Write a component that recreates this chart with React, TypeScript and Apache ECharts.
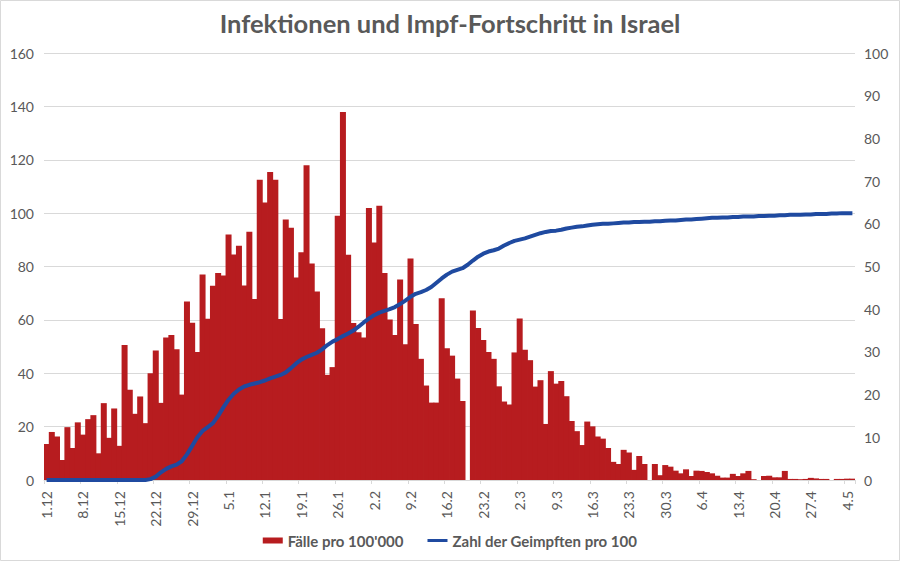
import React, { useEffect, useRef } from "react";
import * as echarts from "echarts";

const dec = ["1.12","2.12","3.12","4.12","5.12","6.12","7.12","8.12","9.12","10.12","11.12","12.12","13.12","14.12","15.12","16.12","17.12","18.12","19.12","20.12","21.12","22.12","23.12","24.12","25.12","26.12","27.12","28.12","29.12","30.12","31.12"];
const jan = ["1.1","2.1","3.1","4.1","5.1","6.1","7.1","8.1","9.1","10.1","11.1","12.1","13.1","14.1","15.1","16.1","17.1","18.1","19.1","20.1","21.1","22.1","23.1","24.1","25.1","26.1","27.1","28.1","29.1","30.1","31.1"];
const feb = ["1.2","2.2","3.2","4.2","5.2","6.2","7.2","8.2","9.2","10.2","11.2","12.2","13.2","14.2","15.2","16.2","17.2","18.2","19.2","20.2","21.2","22.2","23.2","24.2","25.2","26.2","27.2","28.2"];
const mar = ["1.3","2.3","3.3","4.3","5.3","6.3","7.3","8.3","9.3","10.3","11.3","12.3","13.3","14.3","15.3","16.3","17.3","18.3","19.3","20.3","21.3","22.3","23.3","24.3","25.3","26.3","27.3","28.3","29.3","30.3","31.3"];
const apr = ["1.4","2.4","3.4","4.4","5.4","6.4","7.4","8.4","9.4","10.4","11.4","12.4","13.4","14.4","15.4","16.4","17.4","18.4","19.4","20.4","21.4","22.4","23.4","24.4","25.4","26.4","27.4","28.4","29.4","30.4"];
const may = ["1.5","2.5","3.5","4.5","5.5"];
const categories = [...dec, ...jan, ...feb, ...mar, ...apr, ...may];

// Fälle pro 100'000 (left axis)
const cases = [
  13.5, 18, 16.3, 7.5, 19.8, 12, 21.6, 17, 22.8, 24.3, 10, 28.8, 15.8, 26.8, 12.8, 50.6, 33.8, 24.8, 31.3, 21.3, 40, 48.5, 28.9, 53.4, 54.3, 49, 32, 66.9, 58.9, 48, 77,
  60.4, 72.8, 77.6, 76.6, 92, 84.5, 87.8, 72.9, 93, 67.8, 112.5, 104, 115.4, 112.5, 60.3, 97.6, 94.5, 75.9, 85.3, 117.9, 81.1, 70.6, 56.9, 39.4, 42.3, 99, 137.9, 84.4, 58.8, 55.4, 53.4,
  101.9, 89, 102.8, 77.6, 60.1, 54.3, 75.1, 50.9, 83, 58.5, 45.4, 35.4, 29, 29, 68.1, 49.4, 46.6, 38, 29.6, 0, 63.5, 57, 52.5, 48, 45.4, 35.1, 29.4, 28.3,
  47.8, 60.5, 48.8, 44.9, 35, 37.4, 21, 40.8, 36.1, 37.1, 31.4, 22.1, 18.3, 13.1, 21.9, 20.1, 16.3, 15.5, 12, 6.8, 6, 11.3, 10.3, 3.8, 9, 6, 0, 6, 1.8,
  5.6, 5, 3.5, 2.5, 4, 1.5, 3.5, 3.4, 3, 2.5, 1.6, 0.9, 0.9, 2.3, 1.5, 2.5, 3.4, 0.3, 0, 1.5, 1.6, 1, 1, 3.4, 0.4, 0.4, 0.3, 0.4, 0.8, 0.6, 0.4, 0.4,
  0, 0.4, 0.4, 0.5, 0.5
];

// Zahl der Geimpften pro 100 (right axis)
const vaccinated = [
  0, 0, 0, 0, 0, 0, 0, 0, 0, 0, 0, 0, 0, 0, 0, 0, 0, 0, 0, 0, 0.2, 0.8, 1.8, 2.6, 3.2, 3.6, 4.4, 6.0, 8.0, 10.0, 11.5,
  12.4, 13.3, 15.0, 17.0, 18.8, 20.2, 21.2, 21.9, 22.3, 22.6, 22.9, 23.3, 23.8, 24.2, 24.6, 25.2, 26.2, 27.3, 28.2, 28.8, 29.3, 29.8, 30.6, 31.6, 32.4, 33.0, 33.7, 34.3, 35.0, 35.9, 36.9,
  37.8, 38.6, 39.2, 39.6, 40.0, 40.5, 41.2, 42.0, 42.9, 43.6, 44.0, 44.5, 45.2, 46.2, 47.2, 48.1, 48.8, 49.2, 49.6, 50.4, 51.4, 52.3, 53.0, 53.5, 53.8, 54.2, 54.9, 55.5,
  56.0, 56.3, 56.6, 57.0, 57.4, 57.8, 58.1, 58.3, 58.4, 58.6, 58.9, 59.1, 59.3, 59.4, 59.6, 59.8, 59.9, 60.0, 60.0, 60.1, 60.2, 60.3, 60.3, 60.4, 60.4, 60.5, 60.5, 60.6, 60.6,
  60.7, 60.8, 60.8, 60.9, 61.0, 61.0, 61.1, 61.2, 61.3, 61.4, 61.4, 61.5, 61.5, 61.6, 61.6, 61.7, 61.7, 61.7, 61.8, 61.8, 61.9, 61.9, 62.0, 62.0, 62.1, 62.1, 62.1, 62.2, 62.2, 62.3, 62.3, 62.3,
  62.4, 62.4, 62.5, 62.5, 62.5
];

const TITLE = "Infektionen und Impf-Fortschritt in Israel";
const SERIES_CASES = "Fälle pro 100'000";
const SERIES_VAC = "Zahl der Geimpften pro 100";

const BAR_COLOR = "#b71c1f";
const LINE_COLOR = "#1f4aa0";

export default function App() {
  const ref = useRef<HTMLDivElement>(null);
  useEffect(() => {
    if (!ref.current) return;
    const chart = echarts.init(ref.current, undefined, { renderer: "svg" });
    const grey = "#595959";
    chart.setOption({
      animation: false,
      backgroundColor: "#ffffff",
      textStyle: { fontFamily: "Lato" },
      title: {
        text: TITLE,
        left: "center",
        top: 5,
        textStyle: { fontFamily: "Lato", fontWeight: "bold", fontSize: 25.5, color: grey },
      },
      graphic: [
        {
          type: "rect",
          shape: { x: 0.5, y: 0.5, width: 899, height: 560 },
          style: { fill: "none", stroke: "#d9d9d9", lineWidth: 1 },
          silent: true,
        },
      ],
      legend: {
        bottom: 8,
        left: "center",
        itemGap: 24,
        itemWidth: 20,
        itemHeight: 6,
        textStyle: { fontFamily: "Lato", fontWeight: "bold", fontSize: 15, color: grey },
        data: [
          { name: SERIES_CASES, icon: "rect" },
          {
            name: SERIES_VAC,
            icon: "path://M0,0 L20,0 L20,0.001 Z M0,1.4 L20,1.4 L20,4.6 L0,4.6 Z M0,6 L20,6 L20,5.999 Z",
          },
        ],
      },
      grid: { left: 44, right: 45, top: 53, bottom: 81, containLabel: false },
      xAxis: {
        type: "category",
        data: categories,
        boundaryGap: true,
        axisLine: { lineStyle: { color: "#d9d9d9" } },
        axisTick: { show: true, interval: 6, length: 4, lineStyle: { color: "#d9d9d9" } },
        axisLabel: { interval: 6, rotate: 90, color: grey, fontSize: 14, fontFamily: "Lato", margin: 11 },
      },
      yAxis: [
        {
          type: "value",
          min: 0,
          max: 160,
          interval: 20,
          axisLine: { show: false },
          axisTick: { show: false },
          axisLabel: { color: grey, fontSize: 14, fontFamily: "Lato", margin: 10 },
          splitLine: { lineStyle: { color: "#d9d9d9" } },
        },
        {
          type: "value",
          min: 0,
          max: 100,
          interval: 10,
          position: "right",
          axisLine: { show: false },
          axisTick: { show: false },
          axisLabel: { color: grey, fontSize: 14, fontFamily: "Lato", margin: 9 },
          splitLine: { show: false },
        },
      ],
      series: [
        {
          name: SERIES_CASES,
          type: "bar",
          data: cases,
          yAxisIndex: 0,
          barWidth: 6,
          itemStyle: { color: BAR_COLOR },
        },
        {
          name: SERIES_VAC,
          type: "line",
          data: vaccinated,
          yAxisIndex: 1,
          symbol: "none",
          lineStyle: { color: LINE_COLOR, width: 4 },
          itemStyle: { color: LINE_COLOR },
          z: 5,
        },
      ],
    });
    return () => chart.dispose();
  }, []);
  return (
    <div
      ref={ref}
      style={{ position: "fixed", left: 0, top: 0, width: 900, height: 561 }}
    />
  );
}
